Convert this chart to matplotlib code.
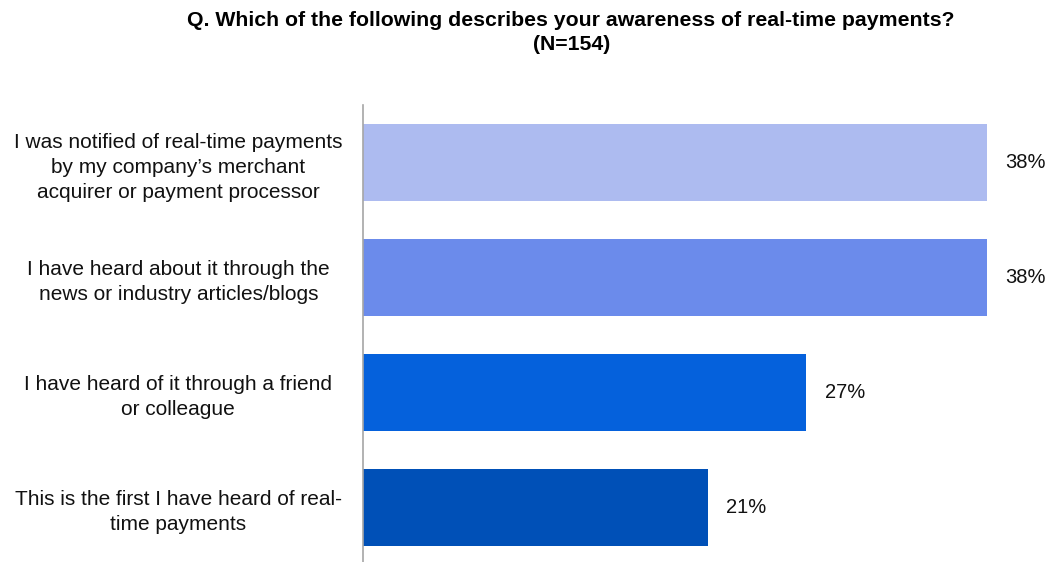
import matplotlib.pyplot as plt

plt.rcParams['font.family'] = ['Liberation Sans', 'DejaVu Sans']

# -- survey answers
answers = [
    'I was notified of real-time payments\nby my company\u2019s merchant\nacquirer or payment processor',
    'I have heard about it through the\nnews or industry articles/blogs',
    'I have heard of it through a friend\nor colleague',
    'This is the first I have heard of real-\ntime payments',
]
shares = [38, 38, 27, 21]  # percent of respondents
bar_colors = ['#ADBBF0', '#6B8BEB', '#0561DC', '#0050B7']

fig = plt.figure(figsize=(10.52, 5.62), dpi=100)
ax = fig.add_axes([363/1052, -0.005, (1020-363)/1052, 0.818])

pos = range(len(answers))
ax.barh(pos, shares, height=0.67, color=bar_colors)
for p, v in zip(pos, shares):
    ax.text(v + 1.1, p, f'{v}%', va='center', ha='left', fontsize=14.5, color='#111111')

ax.set_xlim(0, 40)
ax.set_ylim(3.5, -0.5)
ax.set_xticks([])
ax.set_yticks(list(pos))
ax.set_yticklabels(answers, fontsize=15, ha='center', multialignment='center',
                   color='#111111', linespacing=1.4)
ax.tick_params(axis='y', length=0, pad=133)
for side in ['top', 'right', 'bottom']:
    ax.spines[side].set_visible(False)
ax.spines['left'].set_color('#A6A6A6')
ax.spines['left'].set_linewidth(1.2)

fig.text(0.543, 0.98, 'Q. Which of the following describes your awareness of real-time payments?\n(N=154)',
         ha='center', va='top', fontsize=15.3, fontweight='bold', linespacing=1.35)

fig.savefig('out.png', dpi=100)
